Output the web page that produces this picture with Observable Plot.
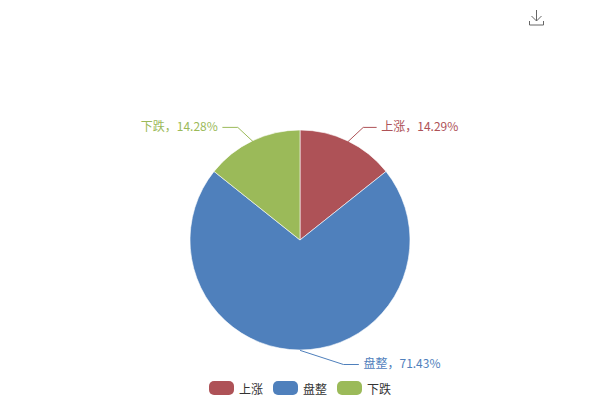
<!DOCTYPE html>
<html><head><meta charset="utf-8">
<script src="https://cdn.jsdelivr.net/npm/d3@7"></script>
<script src="https://cdn.jsdelivr.net/npm/@observablehq/plot@0.6"></script>
<style>
body{margin:0;background:#fff;font-family:"Noto Sans CJK SC","Noto Sans",sans-serif}
#wrap{position:relative;width:600px;height:400px;overflow:hidden}
#legend{position:absolute;left:0;top:380px;width:600px;display:flex;justify-content:center;gap:10px;font-size:12px;color:#333}
#legend .item{display:flex;align-items:center;gap:5px;height:16px}
#legend .sw{width:25px;height:14px;border-radius:5px}
#dl{position:absolute;left:528px;top:7px}
</style></head>
<body><div id="wrap"></div>
<script>
// ---- data ----
const categories = ["上涨", "盘整", "下跌"];
const percents = [14.29, 71.43, 14.28];
const colors = ["#AE5257", "#4F80BC", "#9BBA59"];

// ---- style: label-line bends (px offsets from slice edge: elbow dx,dy; horizontal run) ----
const R = 110;
const bends = [[15, -14, 13], [43, 14, 15], [-15, -14, -15]];

const data = categories.map((name, i) => ({name, value: percents[i], color: colors[i]}));
const arcs = d3.pie().sort(null).value(d => d.value)(data);

const linePts = [];
const labels = [];
arcs.forEach((a, i) => {
  const mid = (a.startAngle + a.endAngle) / 2;
  const ex = Math.sin(mid), ey = Math.cos(mid);
  const [bx, by, run] = bends[i];
  const elx = ex + bx / R, ely = ey - by / R;
  const endx = elx + run / R;
  const name = a.data.name;
  linePts.push({name, x: ex, y: ey}, {name, x: elx, y: ely}, {name, x: endx, y: ely});
  labels.push({name, x: endx + Math.sign(run) * 5 / R, y: ely, side: run > 0 ? "right" : "left",
    text: `${name}，${a.data.value.toFixed(2)}%`});
});

const pieMark = Plot.dot([0], {
  x: () => 0, y: () => 0,
  render(index, scales) {
    const cx = scales.x(0), cy = scales.y(0), r = scales.x(1) - scales.x(0);
    const arc = d3.arc().innerRadius(0).outerRadius(r);
    const g = d3.create("svg:g").attr("transform", `translate(${cx},${cy})`);
    g.selectAll("path").data(arcs).join("path")
      .attr("d", arc)
      .attr("fill", d => scales.color(d.data.name))
      .attr("stroke", "#fff").attr("stroke-width", 0.6);
    return g.node();
  }
});

const H = 375;
const chart = Plot.plot({
  width: 600, height: H, margin: 0,
  x: {domain: [-300 / R, 300 / R], range: [0, 600], axis: null},
  y: {domain: [(240 - H) / R, 240 / R], range: [H, 0], axis: null},
  color: {domain: categories, range: colors},
  style: {fontFamily: '"Noto Sans CJK SC","Noto Sans",sans-serif', fontSize: "12px", background: "white"},
  marks: [
    pieMark,
    Plot.line(linePts, {x: "x", y: "y", z: "name", stroke: "name", strokeWidth: 1, curve: "linear"}),
    Plot.text(labels.filter(d => d.side === "right"), {x: "x", y: "y", text: "text", fill: "name", textAnchor: "start", fontSize: 12}),
    Plot.text(labels.filter(d => d.side === "left"), {x: "x", y: "y", text: "text", fill: "name", textAnchor: "end", fontSize: 12})
  ]
});

const wrap = document.getElementById("wrap");
wrap.appendChild(chart);

const legend = document.createElement("div");
legend.id = "legend";
categories.forEach((c, i) => {
  const it = document.createElement("div");
  it.className = "item";
  const sw = document.createElement("span");
  sw.className = "sw"; sw.style.background = colors[i];
  const t = document.createElement("span");
  t.textContent = c;
  it.append(sw, t);
  legend.appendChild(it);
});
wrap.appendChild(legend);

const dl = document.createElement("div");
dl.id = "dl";
dl.innerHTML = '<svg width="17" height="17" viewBox="0 0 17 17" fill="none" stroke="#666" stroke-width="1"><path d="M8.5 1v11M3.5 7l5 5 5-5M1.5 12v4h14v-4"/></svg>';
wrap.appendChild(dl);
</script>
</body></html>
